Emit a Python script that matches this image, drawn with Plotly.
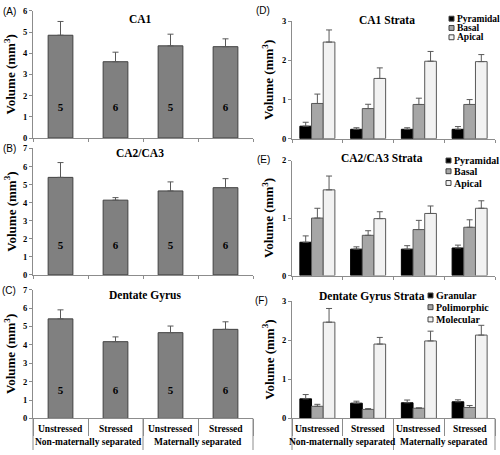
import plotly.graph_objects as go

# ---------------- data ----------------
groups = ["Non-maternally separated", "Non-maternally separated",
          "Maternally separated", "Maternally separated"]
conditions = ["Unstressed", "Stressed", "Unstressed", "Stressed"]
group_names = ["Non-maternally separated", "Maternally separated"]
n_labels = ["5", "6", "5", "6"]

ca1_vol = [4.85, 3.60, 4.35, 4.31]
ca1_err = [0.65, 0.45, 0.55, 0.37]
ca23_vol = [5.40, 4.14, 4.65, 4.83]
ca23_err = [0.82, 0.14, 0.50, 0.50]
dg_vol = [5.41, 4.17, 4.66, 4.84]
dg_err = [0.49, 0.26, 0.36, 0.41]

ca_strata = ["Pyramidal", "Basal", "Apical"]
dg_strata = ["Granular", "Polimorphic", "Molecular"]

ca1_pyr = [0.32, 0.24, 0.24, 0.24]
ca1_pyr_err = [0.10, 0.04, 0.04, 0.07]
ca1_bas = [0.90, 0.77, 0.875, 0.875]
ca1_bas_err = [0.24, 0.11, 0.16, 0.125]
ca1_api = [2.47, 1.54, 1.98, 1.97]
ca1_api_err = [0.31, 0.27, 0.25, 0.18]

ca23_pyr = [0.58, 0.46, 0.46, 0.48]
ca23_pyr_err = [0.11, 0.04, 0.06, 0.05]
ca23_bas = [1.00, 0.70, 0.80, 0.84]
ca23_bas_err = [0.17, 0.08, 0.16, 0.13]
ca23_api = [1.49, 0.99, 1.08, 1.17]
ca23_api_err = [0.24, 0.12, 0.13, 0.13]

dg_gran = [0.50, 0.39, 0.40, 0.425]
dg_gran_err = [0.11, 0.05, 0.07, 0.05]
dg_pol = [0.31, 0.23, 0.26, 0.28]
dg_pol_err = [0.05, 0.02, 0.01, 0.05]
dg_mol = [2.46, 1.90, 1.98, 2.13]
dg_mol_err = [0.35, 0.17, 0.25, 0.25]

# ---------------- style ----------------
W, H = 500, 455
SERIF = "Liberation Serif"
SANS = "Liberation Sans"
AXIS_GRAY = "#8c8c8c"
ERR_COLOR = "#595959"
strata_fill = ["#000000", "#a6a6a6", "#f2f2f2"]
strata_line = ["#000000", "#595959", "#595959"]


def px(x):
    return x / W


def py(y):
    return 1 - y / H


fig = go.Figure()
xcat = [groups, conditions]


def err(a):
    return dict(type="data", symmetric=False, array=a, arrayminus=[0] * len(a),
                color=ERR_COLOR, thickness=1, width=3)


# left panels
left = [("x", "y", ca1_vol, ca1_err, 1.42),
        ("x2", "y2", ca23_vol, ca23_err, 1.6),
        ("x3", "y3", dg_vol, dg_err, 1.5)]
for xa, ya, v, e, ny in left:
    fig.add_trace(go.Bar(x=xcat, y=v, error_y=err(e), width=0.45,
                         marker=dict(color="#808080", line=dict(color="#404040", width=1)),
                         xaxis=xa, yaxis=ya, showlegend=False))
    fig.add_trace(go.Scatter(x=xcat, y=[ny] * 4, text=n_labels, mode="text",
                             textfont=dict(family=SERIF, size=11, color="black", weight="bold"),
                             xaxis=xa, yaxis=ya, showlegend=False, hoverinfo="skip"))

# right panels
right = [("x4", "y4", ca_strata, [(ca1_pyr, ca1_pyr_err), (ca1_bas, ca1_bas_err), (ca1_api, ca1_api_err)]),
         ("x5", "y5", ca_strata, [(ca23_pyr, ca23_pyr_err), (ca23_bas, ca23_bas_err), (ca23_api, ca23_api_err)]),
         ("x6", "y6", dg_strata, [(dg_gran, dg_gran_err), (dg_pol, dg_pol_err), (dg_mol, dg_mol_err)])]
for xa, ya, names, series in right:
    for i, (name, (v, e)) in enumerate(zip(names, series)):
        fig.add_trace(go.Bar(x=xcat, y=v, error_y=err(e), name=name,
                             marker=dict(color=strata_fill[i], line=dict(color=strata_line[i], width=1)),
                             xaxis=xa, yaxis=ya, showlegend=False))

# axes
LXP = (33, 253)
RXP = (292, 495)
rows_left = [(6, 136), (146.7, 276), (291, 422.7)]
rows_right = [(16.7, 136.7), (159, 276.7), (302.7, 422.7)]
yranges = [6, 7, 7, 3, 2, 3]
tickfont = dict(family=SERIF, size=8.5, color="black", weight="bold")
catfont = dict(family=SERIF, size=9.5, color="black", weight="bold")

layout = dict(width=W, height=H, margin=dict(l=0, r=0, t=0, b=0),
              paper_bgcolor="white", plot_bgcolor="white",
              barmode="group", bargap=0.31, bargroupgap=0, showlegend=False)

for k in range(6):
    sx = "" if k == 0 else str(k + 1)
    x0p, x1p = LXP if k < 3 else RXP
    top, bot = (rows_left + rows_right)[k]
    bottom_panel = k in (2, 5)
    xa = dict(domain=[px(x0p), px(x1p)], anchor="y" + sx, type="multicategory",
              showline=True, linecolor=AXIS_GRAY, linewidth=1,
              ticks="outside", tickcolor=AXIS_GRAY, ticklen=17 if bottom_panel else 3,
              showgrid=False, zeroline=False, showticklabels=False, showdividers=False)
    ya = dict(domain=[py(bot), py(top)], anchor="x" + sx, range=[0, yranges[k]],
              dtick=1, tick0=0, showline=True, linecolor=AXIS_GRAY, linewidth=1,
              ticks="outside", tickcolor=AXIS_GRAY, ticklen=3,
              showgrid=False, zeroline=False, tickfont=tickfont)
    layout["xaxis" + sx] = xa
    layout["yaxis" + sx] = ya

fig.update_layout(**layout)

annotations = []
shapes = []

# two-level category labels and group dividers under the bottom panels
AX_Y = 422.7
for x0p, x1p in (LXP, RXP):
    cw = (x1p - x0p) / len(conditions)
    for i, c in enumerate(conditions):
        annotations.append(dict(text=c, x=px(x0p + cw * (i + 0.5)), y=py(434), xref="paper", yref="paper",
                                showarrow=False, xanchor="center", yanchor="middle", font=catfont))
    gw = (x1p - x0p) / len(group_names)
    for j, g in enumerate(group_names):
        annotations.append(dict(text=g, x=px(x0p + gw * (j + 0.5)), y=py(447), xref="paper", yref="paper",
                                showarrow=False, xanchor="center", yanchor="middle", font=catfont))
    for j in range(len(group_names) + 1):
        xd = px(x0p + gw * j)
        shapes.append(dict(type="line", xref="paper", yref="paper", x0=xd, x1=xd,
                           y0=py(AX_Y), y1=py(H), line=dict(color=AXIS_GRAY, width=1)))

# panel titles
titles = [("CA1", 140, 14), ("CA2/CA3", 140, 151), ("Dentate Gyrus", 145, 297),
          ("CA1 Strata", 387, 15), ("CA2/CA3 Strata", 382, 156), ("Dentate Gyrus Strata", 372, 298)]
for t, x, y in titles:
    annotations.append(dict(text=t, x=px(x), y=py(y), xref="paper", yref="paper",
                            showarrow=False, xanchor="center", yanchor="middle",
                            font=dict(family=SERIF, size=11.5, color="black", weight="bold")))

# panel letters
letters = [("(A)", 9, 7), ("(B)", 9, 147), ("(C)", 9, 292), ("(D)", 263, 6), ("(E)", 263, 158), ("(F)", 261, 302)]
for t, x, y in letters:
    annotations.append(dict(text=t, x=px(x), y=py(y), xref="paper", yref="paper",
                            showarrow=False, xanchor="center", yanchor="middle",
                            font=dict(family=SANS, size=10, color="black")))

# y-axis titles
for (top, bot), xc in [(r, 10) for r in rows_left] + [(r, 268) for r in rows_right]:
    annotations.append(dict(text="Volume (mm<sup>3</sup>)", x=px(xc), y=py((top + bot) / 2),
                            xref="paper", yref="paper", showarrow=False, textangle=-90,
                            xanchor="center", yanchor="middle",
                            font=dict(family=SERIF, size=13, color="black", weight="bold")))

# legends (manual, compact)
legends = [(ca_strata, 449, [14, 23.5, 33], 9.5),
           (ca_strata, 446, [159, 170, 182], 10),
           (dg_strata, 428, [297, 309, 321.5], 10)]
for names, x0, ys, fs in legends:
    for i, (name, yc) in enumerate(zip(names, ys)):
        shapes.append(dict(type="rect", xref="paper", yref="paper",
                           x0=px(x0), x1=px(x0 + 5), y0=py(yc + 2.5), y1=py(yc - 2.5),
                           fillcolor=strata_fill[i], line=dict(color="#404040", width=1)))
        annotations.append(dict(text=name, x=px(x0 + 5.5), y=py(yc), xref="paper", yref="paper",
                                showarrow=False, xanchor="left", yanchor="middle",
                                font=dict(family=SERIF, size=fs, color="black", weight="bold")))

fig.update_layout(annotations=annotations, shapes=shapes)
fig.write_html("out.html", config={"displayModeBar": False},
               post_script="document.body.style.margin='0';document.body.style.overflow='hidden';")
